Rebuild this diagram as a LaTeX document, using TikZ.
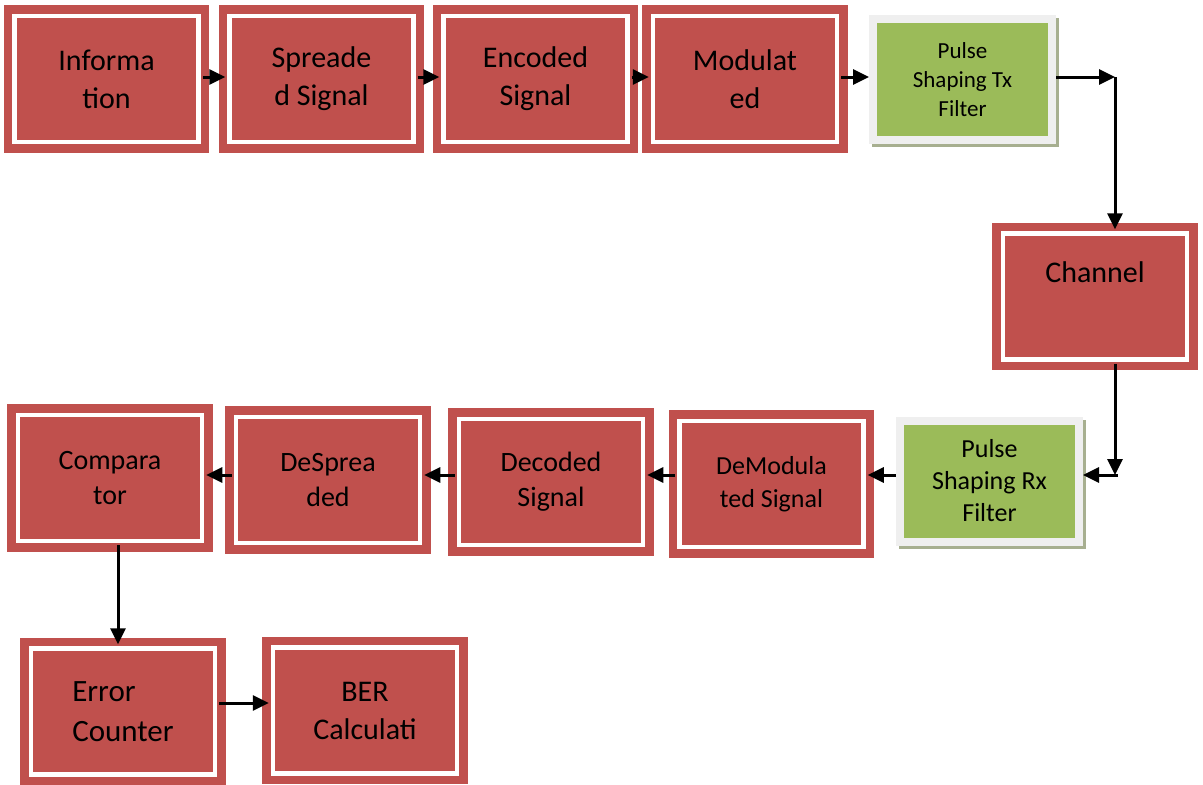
\documentclass[tikz,border=0pt]{standalone}
\usepackage{fontspec}
\setmainfont{Carlito}
\usetikzlibrary{arrows.meta,shadows}
\definecolor{boxred}{HTML}{C0504D}
\definecolor{boxgreen}{HTML}{9BBB59}
\definecolor{framegray}{HTML}{EFEFEF}
\definecolor{shadowgray}{HTML}{A7AF90}

\begin{document}
\begin{tikzpicture}[x=1pt,y=-1pt,
  redbox/.style={fill=boxred, draw=boxred, double=white, line width=8.5pt,
    double distance=4.5pt, minimum width=184pt, minimum height=126pt,
    align=center, inner sep=0pt},
  greenbox/.style={fill=boxgreen, draw=framegray, line width=8pt,
    minimum width=179pt, minimum height=121pt, align=center, inner sep=0pt,
    general shadow={fill=shadowgray, draw=shadowgray, line width=8pt,
      shadow xshift=3pt, shadow yshift=-3pt}},
  big/.style={font=\fontsize{30}{38}\selectfont},
  mid/.style={font=\fontsize{28}{35}\selectfont},
  small/.style={font=\fontsize{26}{33}\selectfont},
  arr/.style={line width=3pt, -{Triangle[length=16pt,width=15pt]}}]
  \useasboundingbox (0,0) rectangle (1203,785);
  \node[redbox,big] (information) at (106.5,79) {Informa\\tion};
  \node[redbox,big] (spreaded) at (321.5,79) {Spreade\\d Signal};
  \node[redbox,big] (encoded) at (535.5,79) {Encoded\\Signal};
  \node[redbox,big] (modulated) at (745,79) {Modulat\\ed};
  \node[greenbox,font=\fontsize{23}{29}\selectfont] (txfilter) at (962.5,79.5)
    {Pulse\\Shaping Tx\\Filter};
  \node[redbox,big] (channel) at (1095,296.5) {Channel\\\strut};
  \node[greenbox,font=\fontsize{26}{32}\selectfont] (rxfilter) at (989.5,481)
    {Pulse\\Shaping Rx\\Filter};
  \node[redbox,small] (demodulated) at (771.5,484) {DeModula\\ted Signal};
  \node[redbox,mid] (decoded) at (551,482) {Decoded\\Signal};
  \node[redbox,mid] (despreaded) at (328,480) {DeSprea\\ded};
  \node[redbox,mid] (comparator) at (110,478) {Compara\\tor};
  \node[redbox,align=left,font=\fontsize{31}{40}\selectfont] (errcounter)
    at (123,711.5) {Error\\Counter};
  \node[redbox,big] (bercalc) at (365,710.5) {BER\\Calculati};

  \coordinate (txcorner) at (1115,77);
  \coordinate (rxcorner) at (1115,475);
  \coordinate (cmpdown) at (118,0);
  \draw[arr] (information.east |- 0,77) -- (spreaded.west |- 0,77);
  \draw[arr] (spreaded.east |- 0,77) -- (encoded.west |- 0,77);
  \draw[arr] (encoded.east |- 0,77) -- (modulated.west |- 0,77);
  \draw[arr] (modulated.east |- 0,77) -- (txfilter.west |- 0,77);
  \draw[arr] (txfilter.east |- txcorner) -- (txcorner);
  \draw[arr] (txcorner) -- (channel.north -| txcorner);
  \draw[arr] (channel.south -| rxcorner) -- (rxcorner);
  \draw[arr] ([xshift=3pt]rxcorner) -- (rxfilter.east |- rxcorner);
  \draw[arr] (rxfilter.west |- rxcorner) -- (demodulated.east |- rxcorner);
  \draw[arr] (demodulated.west |- rxcorner) -- (decoded.east |- rxcorner);
  \draw[arr] (decoded.west |- rxcorner) -- (despreaded.east |- rxcorner);
  \draw[arr] (despreaded.west |- rxcorner) -- (comparator.east |- rxcorner);
  \draw[arr] (comparator.south -| cmpdown) -- (errcounter.north -| cmpdown);
  \draw[arr] (errcounter.east |- 0,703) -- (bercalc.west |- 0,703);
\end{tikzpicture}
\end{document}
